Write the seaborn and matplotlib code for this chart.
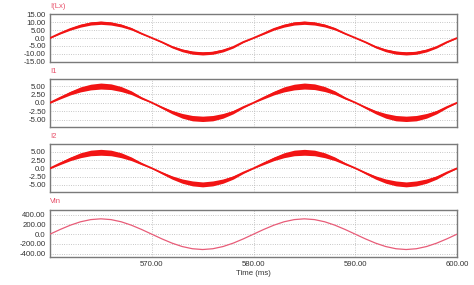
import matplotlib
matplotlib.use("Agg")
import matplotlib.pyplot as plt
import seaborn as sns
import pandas as pd

# ---------------- data ----------------
time_ms = [560, 561, 562, 563, 564, 565, 566, 567, 568, 569,
           570, 571, 572, 573, 574, 575, 576, 577, 578, 579,
           580, 581, 582, 583, 584, 585, 586, 587, 588, 589,
           590, 591, 592, 593, 594, 595, 596, 597, 598, 599, 600]

i_lx = [0.0, 3.0, 5.7, 7.8, 9.2, 9.7, 9.2, 7.9, 5.8, 2.8,
        0.1, -2.6, -5.6, -7.8, -9.2, -9.7, -9.3, -7.9, -5.7, -2.5,
        0.0, 2.8, 5.7, 7.8, 9.2, 9.7, 9.2, 7.9, 5.8, 2.8,
        0.1, -2.6, -5.6, -7.8, -9.2, -9.7, -9.3, -7.9, -5.7, -2.6, 0.0]
i_lx_ripple = [0.1, 0.4, 0.7, 0.9, 1.0, 1.05, 1.0, 0.9, 0.7, 0.35,
               0.1, 0.35, 0.65, 0.85, 1.0, 1.0, 0.95, 0.85, 0.6, 0.3,
               0.1, 0.4, 0.7, 0.9, 1.0, 1.05, 1.0, 0.9, 0.7, 0.35,
               0.1, 0.35, 0.65, 0.85, 1.0, 1.0, 0.95, 0.85, 0.6, 0.3, 0.1]

i_1 = [0.0, 1.5, 2.9, 4.0, 4.7, 5.0, 4.8, 4.1, 3.0, 1.4,
       0.05, -1.4, -2.8, -3.9, -4.6, -4.8, -4.6, -3.9, -2.8, -1.3,
       0.0, 1.5, 2.9, 4.0, 4.7, 5.0, 4.8, 4.1, 3.0, 1.4,
       0.05, -1.4, -2.8, -3.9, -4.6, -4.8, -4.6, -3.9, -2.8, -1.3, 0.0]
i_1_ripple = [0.1, 0.35, 0.55, 0.75, 0.85, 0.9, 0.85, 0.75, 0.55, 0.3,
              0.05, 0.3, 0.5, 0.7, 0.8, 0.8, 0.8, 0.7, 0.5, 0.25,
              0.05, 0.35, 0.55, 0.75, 0.85, 0.9, 0.85, 0.75, 0.55, 0.3,
              0.05, 0.3, 0.5, 0.7, 0.8, 0.8, 0.8, 0.7, 0.5, 0.25, 0.05]

i_2 = [0.0, 1.5, 2.9, 4.0, 4.7, 4.9, 4.7, 4.0, 2.9, 1.4,
       0.05, -1.4, -2.8, -3.9, -4.6, -4.9, -4.6, -3.9, -2.8, -1.3,
       0.0, 1.5, 2.9, 4.0, 4.7, 4.9, 4.7, 4.0, 2.9, 1.4,
       0.05, -1.4, -2.8, -3.9, -4.6, -4.9, -4.6, -3.9, -2.8, -1.3, 0.0]
i_2_ripple = [0.1, 0.35, 0.55, 0.75, 0.85, 0.9, 0.85, 0.75, 0.55, 0.3,
              0.05, 0.3, 0.5, 0.65, 0.75, 0.75, 0.75, 0.65, 0.5, 0.25,
              0.05, 0.35, 0.55, 0.75, 0.85, 0.9, 0.85, 0.75, 0.55, 0.3,
              0.05, 0.3, 0.5, 0.65, 0.75, 0.75, 0.75, 0.65, 0.5, 0.25, 0.05]

v_in = [0, 97, 185, 255, 300, 316, 300, 255, 185, 97,
        0, -97, -185, -255, -300, -316, -300, -255, -185, -97,
        0, 97, 185, 255, 300, 316, 300, 255, 185, 97,
        0, -97, -185, -255, -300, -316, -300, -255, -185, -97, 0]

panel_names = ["I(Lx)", "I1", "I2", "Vin"]

ilx_ticks = [15, 10, 5, 0, -5, -10, -15]
ilx_ticklabels = ["15.00", "10.00", "5.00", "0.0", "-5.00", "-10.00", "-15.00"]
i_ticks = [5, 2.5, 0, -2.5, -5]
i_ticklabels = ["5.00", "2.50", "0.0", "-2.50", "-5.00"]
v_ticks = [400, 200, 0, -200, -400]
v_ticklabels = ["400.00", "200.00", "0.0", "-200.00", "-400.00"]
x_ticks = [570, 580, 590, 600]
x_ticklabels = ["570.00", "580.00", "590.00", "600.00"]

# ---------------- styling ----------------
sns.set_theme(style="white")
plt.rcParams["font.family"] = ["Liberation Sans", "DejaVu Sans"]

RED = "#f21414"
VIN_COLOR = "#e85c78"
LABEL_COLOR = "#e8506a"
GRID_COLOR = "#a8a8a8"
SPINE_COLOR = "#7a7a7a"

fig = plt.figure(figsize=(4.74, 2.85), dpi=100)
axes = fig.subplots(4, 1, sharex=True)
fig.subplots_adjust(left=50 / 474, right=457 / 474, top=1 - 14.3 / 285,
                    bottom=1 - 257 / 285, hspace=0.37)

series = [
    (i_lx, i_lx_ripple, (-15, 15), ilx_ticks, ilx_ticklabels),
    (i_1, i_1_ripple, (-7.2, 7.0), i_ticks, i_ticklabels),
    (i_2, i_2_ripple, (-7.2, 7.3), i_ticks, i_ticklabels),
    (v_in, None, (-470, 508), v_ticks, v_ticklabels),
]

for ax, name, (vals, ripple, ylim, yt, ytl) in zip(axes, panel_names, series):
    df = pd.DataFrame({"t": time_ms, "v": vals})
    if ripple is not None:
        lower = [v - r for v, r in zip(vals, ripple)]
        upper = [v + r for v, r in zip(vals, ripple)]
        ax.fill_between(time_ms, lower, upper, color=RED, linewidth=0, zorder=3)
        sns.lineplot(data=df, x="t", y="v", ax=ax, color=RED, linewidth=1.3, zorder=4)
    else:
        sns.lineplot(data=df, x="t", y="v", ax=ax, color=VIN_COLOR, linewidth=0.9, zorder=4)

    ax.set_xlim(560, 600)
    ax.set_ylim(*ylim)
    ax.set_yticks(yt)
    ax.set_yticklabels(ytl)
    ax.set_xticks(x_ticks)
    ax.set_ylabel("")
    ax.set_xlabel("")
    ax.grid(True, color=GRID_COLOR, linestyle=(0, (1, 2)), linewidth=0.55, zorder=0)
    ax.set_axisbelow(True)
    ax.tick_params(length=0, labelsize=5.6, labelcolor="#333333", pad=3)
    for sp in ax.spines.values():
        sp.set_color(SPINE_COLOR)
        sp.set_linewidth(1.0)
    ax.text(0.0, 1.16, name, transform=ax.transAxes, fontsize=5.6,
            color=LABEL_COLOR, ha="left", va="center")

axes[-1].set_xticklabels(x_ticklabels)
axes[-1].set_xlabel("Time (ms)", fontsize=5.6, color="#333333", labelpad=1.5)

fig.savefig("out.png", dpi=100, facecolor="white")
